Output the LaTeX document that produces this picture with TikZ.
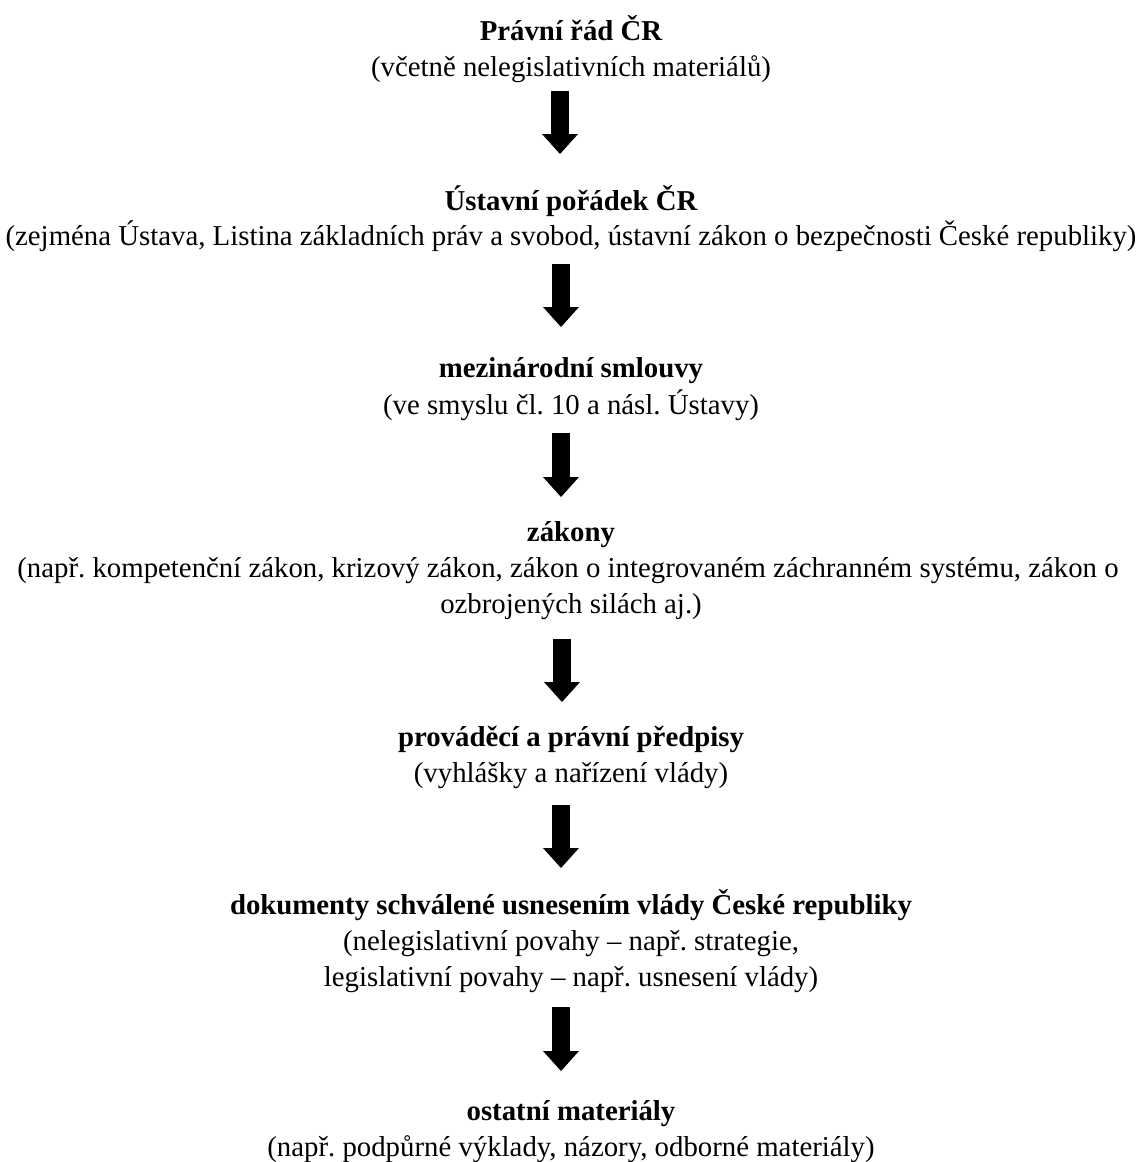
\documentclass[tikz,border=0pt]{standalone}
\usepackage{fontspec}
\setmainfont{Liberation Serif}
\usetikzlibrary{arrows.meta}
\frenchspacing
\begin{document}
\begin{tikzpicture}[x=0.5pt,y=-0.5pt,
  txt/.style={font=\fontsize{14.4}{18}\selectfont, inner sep=0pt, anchor=base},
  ttl/.style={txt, font=\fontsize{14.4}{18}\selectfont\bfseries},
  bigarrow/.style={line width=9pt, -{Triangle[width=18pt,length=10pt,line width=0pt]}}]
\useasboundingbox (0,0) rectangle (1142,1162);
\node[ttl] (t1) at (571,40) {Právní řád ČR};
\node[txt] (s1) at (571,76) {(včetně nelegislativních materiálů)};
\node[ttl] (t2) at (571,210) {Ústavní pořádek ČR};
\node[txt] (s2) at (571,245) {(zejména Ústava, Listina základních práv a svobod, ústavní zákon o bezpečnosti České republiky)};
\node[ttl] (t3) at (571,377) {mezinárodní smlouvy};
\node[txt] (s3) at (571,414) {(ve smyslu čl. 10 a násl. Ústavy)};
\node[ttl] (t4) at (571,541) {zákony};
\node[txt] (s4a) at (568,577) {(např. kompetenční zákon, krizový zákon, zákon o integrovaném záchranném systému, zákon o};
\node[txt] (s4b) at (571,613) {ozbrojených silách aj.)};
\node[ttl] (t5) at (571,746) {prováděcí a právní předpisy};
\node[txt] (s5) at (571,782) {(vyhlášky a nařízení vlády)};
\node[ttl] (t6) at (571,914) {dokumenty schválené usnesením vlády České republiky};
\node[txt] (s6a) at (571,950) {(nelegislativní povahy – např. strategie,};
\node[txt] (s6b) at (571,986) {legislativní povahy – např. usnesení vlády)};
\node[ttl] (t7) at (571,1120) {ostatní materiály};
\node[txt] (s7) at (571,1156) {(např. podpůrné výklady, názory, odborné materiály)};
\coordinate (a1s) at (560,91);   \coordinate (a1e) at (560,154);
\coordinate (a2s) at (561,264);  \coordinate (a2e) at (561,327);
\coordinate (a3s) at (561,433);  \coordinate (a3e) at (561,497);
\coordinate (a4s) at (562,639);  \coordinate (a4e) at (562,702);
\coordinate (a5s) at (561,805);  \coordinate (a5e) at (561,868);
\coordinate (a6s) at (561,1007); \coordinate (a6e) at (561,1071);
\foreach \i in {1,...,6} \draw[bigarrow] (a\i s) -- (a\i e);
\end{tikzpicture}
\end{document}
